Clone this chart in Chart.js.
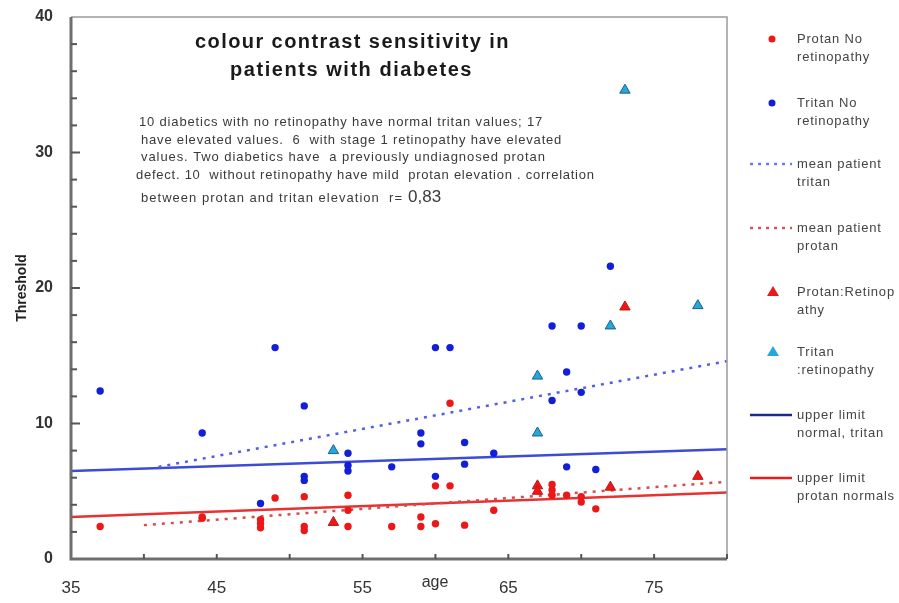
<!DOCTYPE html>
<html><head><meta charset="utf-8">
<script src="https://cdn.jsdelivr.net/npm/chart.js@4/dist/chart.umd.min.js"></script>
<style>html,body{margin:0;padding:0;background:#fff;}#wrap{width:899px;height:603px;}</style>
</head><body><div id="wrap"><canvas id="c" width="899" height="603"></canvas></div>
<script>
// ---- data ----
const tritanNoRetAge = [37,44,48,49,51,51,51,54,54,54,57,59,59,60,61,60,62,62,64,68,70,69,70,68,72,69,71];
const tritanNoRetVal = [12.4,9.3,4.1,15.6,11.3,6.1,5.8,7.8,6.9,6.5,6.8,9.3,8.5,15.6,15.6,6.1,8.6,7.0,7.8,17.2,17.2,13.8,12.3,11.7,21.6,6.8,6.6];
const protanNoRetAge = [37,44,44,48,48,48,49,51,51,51,54,54,54,57,59,59,60,60,61,61,62,64,68,68,68,69,70,70,71];
const protanNoRetVal = [2.4,3.0,3.1,2.9,2.6,2.3,4.5,4.6,2.4,2.1,4.7,3.6,2.4,2.4,3.1,2.4,5.4,2.6,5.4,11.5,2.5,3.6,5.5,5.1,4.7,4.7,4.6,4.2,3.7];
const protanRetAge = [53,67,67,72,73,78];
const protanRetVal = [2.7,5.4,5.0,5.3,18.6,6.1];
const tritanRetAge = [53,67,67,72,73,78];
const tritanRetVal = [8.0,13.5,9.3,17.2,34.6,18.7];
const meanTritanAge = [41,80];
const meanTritanVal = [6.8,14.6];
const meanProtanAge = [40,80];
const meanProtanVal = [2.5,5.7];
const upperTritanAge = [35,80];
const upperTritanVal = [6.5,8.1];
const upperProtanAge = [35,80];
const upperProtanVal = [3.1,4.9];
const xTickLabels = [35,45,55,65,75];
const yTickLabels = [0,10,20,30,40];
const seriesNames = [
  ['Protan No','retinopathy'],
  ['Tritan No','retinopathy'],
  ['mean patient','tritan'],
  ['mean patient','protan'],
  ['Protan:Retinop','athy'],
  ['Tritan',':retinopathy'],
  ['upper limit','normal, tritan'],
  ['upper limit','protan normals']
];
const titleLines = ['colour contrast sensitivity in','patients with diabetes'];
const noteLines = [
  '10 diabetics with no retinopathy have normal tritan values; 17',
  'have elevated values.  6  with stage 1 retinopathy have elevated',
  'values. Two diabetics have  a previously undiagnosed protan',
  'defect. 10  without retinopathy have mild  protan elevation . correlation',
  'between protan and tritan elevation  r='
];
const noteR = '0,83';

const pts = (a,v) => a.map((x,i)=>({x:x,y:v[i]}));
const FONT = '"Liberation Sans", Arial, sans-serif';

const RED = 'rgb(236,24,24)';
const BLUE = 'rgb(18,30,215)';
const CYAN = 'rgb(38,168,218)';

const datasets = [
  {label:seriesNames[0].join(' '), data:pts(protanNoRetAge,protanNoRetVal), pointStyle:'circle', pointRadius:3.7, backgroundColor:RED, borderColor:RED, borderWidth:0, order:1},
  {label:seriesNames[1].join(' '), data:pts(tritanNoRetAge,tritanNoRetVal), pointStyle:'circle', pointRadius:3.7, backgroundColor:BLUE, borderColor:BLUE, borderWidth:0, order:1},
  {type:'line', label:seriesNames[2].join(' '), data:pts(meanTritanAge,meanTritanVal), borderColor:'rgb(80,96,228)', borderWidth:2.5, borderDash:[3,6], pointRadius:0, fill:false, order:5},
  {type:'line', label:seriesNames[3].join(' '), data:pts(meanProtanAge,meanProtanVal), borderColor:'rgb(214,76,76)', borderWidth:2.5, borderDash:[3,6], pointRadius:0, fill:false, order:5},
  {label:seriesNames[4].join(' '), data:pts(protanRetAge,protanRetVal), pointStyle:'triangle', pointRadius:6, backgroundColor:RED, borderColor:'rgb(190,20,20)', borderWidth:1, order:0},
  {label:seriesNames[5].join(' '), data:pts(tritanRetAge,tritanRetVal), pointStyle:'triangle', pointRadius:6, backgroundColor:CYAN, borderColor:'rgb(25,95,140)', borderWidth:1, order:0},
  {type:'line', label:seriesNames[6].join(' '), data:pts(upperTritanAge,upperTritanVal), borderColor:'rgb(60,76,215)', borderWidth:2.5, pointRadius:0, fill:false, order:6},
  {type:'line', label:seriesNames[7].join(' '), data:pts(upperProtanAge,upperProtanVal), borderColor:'rgb(232,50,50)', borderWidth:2.5, pointRadius:0, fill:false, order:6}
];
const legendColors = [RED, BLUE, 'rgb(110,125,232)', 'rgb(200,90,90)', RED, CYAN, 'rgb(30,40,140)', 'rgb(232,30,30)'];

function fitText(c, text, x, y, target) {
  c.letterSpacing = '0px';
  const w = c.measureText(text).width;
  const n = text.length;
  const ls = Math.max(0, (target - w) / n);
  c.letterSpacing = ls.toFixed(2) + 'px';
  c.fillText(text, x, y);
  c.letterSpacing = '0px';
  return w + ls * n;
}

const decor = {
  id:'decor',
  afterDraw(chart){
    const c = chart.ctx, a = chart.chartArea;
    const xs = chart.scales.x, ys = chart.scales.y;
    c.save();
    // frame
    c.strokeStyle = '#9a9a9a'; c.lineWidth = 1.5;
    c.beginPath(); c.moveTo(a.left, a.top); c.lineTo(a.right, a.top); c.lineTo(a.right, a.bottom); c.stroke();
    c.strokeStyle = '#6e6e6e'; c.lineWidth = 3;
    c.beginPath(); c.moveTo(a.left, a.top); c.lineTo(a.left, a.bottom); c.lineTo(a.right, a.bottom); c.stroke();
    // inward ticks
    c.lineWidth = 2; c.strokeStyle = '#555';
    for (let v = 2; v < 40; v += 2) {
      const y = ys.getPixelForValue(v);
      const len = (v % 10 === 0) ? 9 : 6;
      c.beginPath(); c.moveTo(a.left, y); c.lineTo(a.left + len, y); c.stroke();
    }
    for (let v = 40; v <= 80; v += 5) {
      const x = xs.getPixelForValue(v);
      c.beginPath(); c.moveTo(x, a.bottom); c.lineTo(x, a.bottom - 5); c.stroke();
    }
    // x axis title
    c.fillStyle = '#333'; c.font = '16px ' + FONT; c.textAlign = 'center'; c.textBaseline = 'middle';
    c.fillText('age', 435, 583);
    // title
    c.fillStyle = '#1a1a1a'; c.font = 'bold 20px ' + FONT; c.textAlign = 'left';
    fitText(c, titleLines[0], 195, 42, 315);
    fitText(c, titleLines[1], 230, 70, 243);
    // note
    c.fillStyle = '#3a3a3a'; c.font = '13px ' + FONT;
    const noteX = [139, 141, 141, 136, 141];
    const noteY = [122, 140, 157, 175, 198];
    const noteT = [404, 421, 405, 459, 262];
    let w5 = 0;
    noteLines.forEach((t,i)=>{ const w = fitText(c, t, noteX[i], noteY[i], noteT[i]); if (i === 4) w5 = w; });
    c.font = '17px ' + FONT;
    c.fillText(noteR, noteX[4] + w5 + 5, noteY[4] - 1);
    // legend
    const ly = [39, 103, 164, 228, 292, 352, 415, 478];
    c.font = '13px ' + FONT; c.textBaseline = 'middle';
    seriesNames.forEach((lines, i) => {
      const ds = chart.data.datasets[i];
      const y = ly[i];
      const col = legendColors[i];
      c.fillStyle = col; c.strokeStyle = col;
      if (ds.type === 'line') {
        c.lineWidth = 2.5;
        c.setLineDash(ds.borderDash ? [3,5] : []);
        c.beginPath(); c.moveTo(750, y); c.lineTo(792, y); c.stroke();
        c.setLineDash([]);
      } else if (ds.pointStyle === 'triangle') {
        c.beginPath(); c.moveTo(773, y - 6); c.lineTo(779, y + 4); c.lineTo(767, y + 4); c.closePath(); c.fill();
      } else {
        c.beginPath(); c.arc(772, y, 3.5, 0, Math.PI * 2); c.fill();
      }
      c.fillStyle = '#444';
      c.letterSpacing = '0.8px';
      c.fillText(lines[0], 797, y);
      c.fillText(lines[1], 797, y + 18);
      c.letterSpacing = '0px';
    });
    c.restore();
  }
};

new Chart(document.getElementById('c').getContext('2d'), {
  type:'scatter',
  data:{datasets:datasets},
  options:{
    responsive:false, animation:false,
    layout:{padding:{top:17, right:172, left:0, bottom:0}},
    plugins:{legend:{display:false}, tooltip:{enabled:false}},
    scales:{
      x:{type:'linear', min:35, max:80,
        afterFit(s){ s.height = 44; s.paddingLeft = 0; s.paddingRight = 0; },
        grid:{display:false, drawTicks:false}, border:{display:false},
        ticks:{stepSize:5, autoSkip:false, maxRotation:0, padding:19, color:'#333', font:{family:FONT, size:17},
          callback:(v)=> xTickLabels.includes(v) ? String(v) : ''}
      },
      y:{type:'linear', min:0, max:40,
        afterFit(s){ s.width = 71; s.paddingTop = 0; s.paddingBottom = 0; },
        grid:{display:false, drawTicks:false}, border:{display:false},
        ticks:{stepSize:2, autoSkip:false, padding:18, color:'#333', font:{family:FONT, size:16, weight:'bold'},
          callback:(v)=> yTickLabels.includes(v) ? String(v) : ''},
        title:{display:true, text:'Threshold', color:'#222', font:{family:FONT, size:14, weight:'bold'}, padding:{top:14, bottom:0}}
      }
    }
  },
  plugins:[decor]
});
</script>
</body></html>
